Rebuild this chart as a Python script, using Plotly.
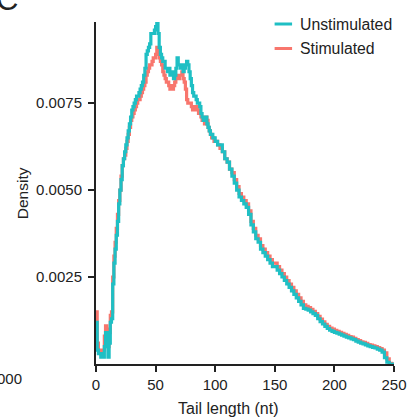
import plotly.graph_objects as go

# Poly(A) tail length density, per condition
tail_length = list(range(0, 101)) + list(range(102, 251, 2))

unstimulated = [
    0.0012, 0.0004, 0.0003, 0.0003, 0.0002, 0.0003, 0.0002, 0.0005, 0.0009, 0.0009,
    0.0002, 0.0006, 0.0012, 0.0013, 0.0023, 0.0029, 0.0033, 0.0037, 0.0041, 0.0046,
    0.0050, 0.0053, 0.0057, 0.0059, 0.0061, 0.0063, 0.0065, 0.0067, 0.0069, 0.0071,
    0.0073, 0.0074, 0.0075, 0.0076, 0.0077, 0.0077, 0.0078, 0.0079, 0.0080, 0.0081,
    0.0083, 0.0085, 0.0089, 0.0090, 0.0091, 0.0092, 0.0095, 0.0095, 0.0095, 0.0096,
    0.0097, 0.00983, 0.0095, 0.0091, 0.0089, 0.0088, 0.0087, 0.0087, 0.0085, 0.0085,
    0.0084, 0.0085, 0.0083, 0.0083, 0.0084, 0.0082, 0.0083, 0.0085, 0.0088, 0.0086,
    0.0086, 0.0085, 0.0086, 0.0084, 0.0085, 0.0086, 0.0087, 0.0086, 0.0084, 0.0082,
    0.0080, 0.0078, 0.0077, 0.0077, 0.0076, 0.0075, 0.0075, 0.0074, 0.0072, 0.0071,
    0.0070, 0.0070, 0.0071, 0.0069, 0.0068, 0.0067, 0.0066, 0.0066, 0.0065, 0.0065,
    0.0064,
    # 102 .. 250 in steps of 2
    0.0063, 0.0063, 0.0061, 0.0059, 0.0058, 0.0056, 0.0054, 0.0052, 0.0050, 0.0048,
    0.0047, 0.0046, 0.0045, 0.0043, 0.0040, 0.0038, 0.0036, 0.0035, 0.0033, 0.0032,
    0.0031, 0.0030, 0.0029, 0.0028, 0.0028, 0.0027, 0.0026, 0.0025, 0.0024, 0.0023,
    0.0022, 0.0021, 0.0020, 0.0019, 0.0018, 0.0017, 0.0016, 0.00158, 0.00155, 0.0015,
    0.00145, 0.0014, 0.0013, 0.00122, 0.00115, 0.00108, 0.00102, 0.00097, 0.00094, 0.00091,
    0.00089, 0.00086, 0.00083, 0.0008, 0.00077, 0.00075, 0.00072, 0.0007, 0.00066, 0.00063,
    0.0006, 0.00058, 0.00055, 0.00052, 0.0005, 0.00048, 0.00046, 0.00043, 0.0004, 0.00034,
    0.00018, 0.00005, 0.0, 0.0, 0.0,
]

stimulated = [
    0.0015, 0.0006, 0.0004, 0.0004, 0.0003, 0.0004, 0.0004, 0.0008, 0.0011, 0.0010,
    0.0005, 0.0009, 0.0014, 0.0015, 0.0025, 0.0031, 0.0035, 0.0039, 0.0043, 0.0047,
    0.0050, 0.0054, 0.0057, 0.0059, 0.0060, 0.0062, 0.0064, 0.0066, 0.0068, 0.0070,
    0.0071, 0.0072, 0.0073, 0.0074, 0.0075, 0.0076, 0.0076, 0.0077, 0.0078, 0.0079,
    0.0080, 0.0081, 0.0083, 0.0084, 0.0085, 0.0086, 0.0086, 0.0087, 0.0088, 0.0088,
    0.0089, 0.0091, 0.0091, 0.0088, 0.0087, 0.0086, 0.0084, 0.0083, 0.0082, 0.0081,
    0.0081, 0.0080, 0.0079, 0.0080, 0.0079, 0.0080, 0.0081, 0.0082, 0.0083, 0.0082,
    0.0083, 0.0083, 0.0084, 0.0082, 0.0081, 0.0079, 0.0076, 0.0075, 0.0075, 0.0075,
    0.0074, 0.0073, 0.0073, 0.0074, 0.0074, 0.0073, 0.0072, 0.0072, 0.0071, 0.0070,
    0.0070, 0.0069, 0.0071, 0.0070, 0.0068, 0.0067, 0.0066, 0.0065, 0.0065, 0.0064,
    0.0064,
    # 102 .. 250 in steps of 2
    0.0063, 0.0062, 0.0061, 0.0059, 0.0058, 0.0056, 0.0055, 0.0053, 0.0051, 0.0049,
    0.0048, 0.0047, 0.0046, 0.0044, 0.0041, 0.0039, 0.0037, 0.0036, 0.0034, 0.0033,
    0.0032, 0.0031, 0.0030, 0.0029, 0.0029, 0.0028, 0.0027, 0.0026, 0.0025, 0.0024,
    0.0023, 0.0022, 0.0021, 0.0020, 0.0019, 0.0018, 0.0017, 0.00166, 0.00162, 0.00157,
    0.00151, 0.00145, 0.00137, 0.00129, 0.00121, 0.00114, 0.00108, 0.00103, 0.001, 0.00097,
    0.00094, 0.00091, 0.00088, 0.00085, 0.00082, 0.00079, 0.00077, 0.00074, 0.0007, 0.00067,
    0.00064, 0.00062, 0.00059, 0.00056, 0.00054, 0.00052, 0.0005, 0.00047, 0.00044, 0.0004,
    0.00032, 0.00015, 0.00002, 0.0, 0.0,
]

y_ticks = [0.0025, 0.0050, 0.0075]
x_ticks = [0, 50, 100, 150, 200, 250]

series_names = ["Unstimulated", "Stimulated"]
series_colors = ["#1FBFC4", "#F8766D"]

FONT = "Liberation Sans, Arial, Helvetica, sans-serif"
INK = "#222222"

W, H = 419, 419
L, R, T, B = 96, 16, 22, 55
pw, ph = W - L - R, H - T - B


def px_x(p):
    return (p - L) / pw


def px_y(p):
    return (H - B - p) / ph


fig = go.Figure()

# stimulated underneath, unstimulated on top
for name, vals, col in [(series_names[1], stimulated, series_colors[1]),
                        (series_names[0], unstimulated, series_colors[0])]:
    fig.add_trace(go.Scatter(
        x=tail_length, y=vals, mode="lines", name=name,
        line=dict(color=col, width=3.2, shape="hv"),
        showlegend=False,
    ))

axis_common = dict(
    showgrid=False, zeroline=False, showline=True, linecolor=INK, linewidth=2,
    ticks="outside", ticklen=6, tickwidth=1.5, tickcolor=INK,
    tickfont=dict(family=FONT, size=15, color=INK),
)

fig.update_xaxes(range=[0, 250], tickvals=x_ticks, **axis_common)
fig.update_yaxes(range=[0, 0.00983], tickvals=y_ticks, tickformat=".4f",
                 ticklabelstandoff=3, **axis_common)

shapes = []
annotations = []

# legend: short colour keys with labels
for i, (name, col) in enumerate(zip(series_names, series_colors)):
    yy = px_y(24 + i * 24.5)
    shapes.append(dict(type="line", xref="paper", yref="paper",
                       x0=px_x(280), x1=px_x(298), y0=yy, y1=yy,
                       line=dict(color=col, width=3)))
    annotations.append(dict(xref="paper", yref="paper", x=px_x(304), y=yy,
                            xanchor="left", yanchor="middle", showarrow=False,
                            text=name, font=dict(family=FONT, size=15.8, color=INK)))

# axis titles
annotations.append(dict(xref="paper", yref="paper", x=px_x(233), y=px_y(408),
                        xanchor="center", yanchor="middle", showarrow=False,
                        text="Tail length (nt)", font=dict(family=FONT, size=16, color=INK)))
annotations.append(dict(xref="paper", yref="paper", x=px_x(20), y=px_y(193),
                        xanchor="center", yanchor="middle", showarrow=False, textangle=-90,
                        text="Density", font=dict(family=FONT, size=15.5, color=INK)))

# panel letter
annotations.append(dict(xref="paper", yref="paper", x=px_x(-9), y=px_y(19),
                        xanchor="left", yanchor="bottom", showarrow=False,
                        text="C", font=dict(family=FONT, size=31, color=INK)))

# edge of the neighbouring panel's tick label
annotations.append(dict(xref="paper", yref="paper", x=px_x(22), y=px_y(378),
                        xanchor="right", yanchor="middle", showarrow=False,
                        text="000", font=dict(family=FONT, size=15, color=INK)))

fig.update_layout(
    width=W, height=H,
    margin=dict(l=L, r=R, t=T, b=B),
    paper_bgcolor="white", plot_bgcolor="white",
    shapes=shapes, annotations=annotations,
    font=dict(family=FONT, color=INK),
)

fig.write_html("out.html")
